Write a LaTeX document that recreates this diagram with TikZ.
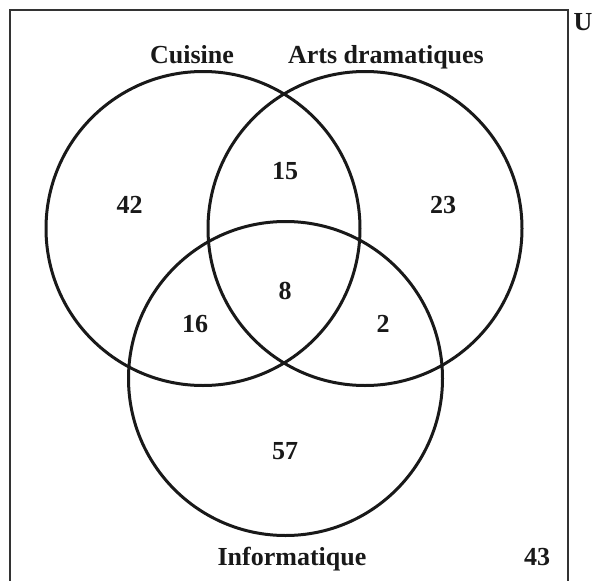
\documentclass[tikz,border=0pt]{standalone}
\usepackage{fontspec}
\setmainfont{Liberation Serif}
\begin{document}
\begin{tikzpicture}[x=1pt,y=-1pt,
  setcircle/.style={draw=black!90, line width=3pt, circle, minimum size=314pt, inner sep=0pt},
  lbl/.style={font=\fontsize{26}{30}\selectfont\bfseries, anchor=base, inner sep=0pt, text=black!90},
  frame/.style={draw=black!80, line width=2pt}]
\useasboundingbox (0,0) rectangle (595,581);
% universe frame
\coordinate (bl) at (9.5,590);
\coordinate (tl) at (9.5,10);
\coordinate (tr) at (567.5,10);
\coordinate (br) at (567.5,590);
\draw[frame] (bl) -- (tl) -- (tr) -- (br);
% circles
\node[setcircle] (cuisine) at (203,228.5) {};
\node[setcircle] (arts) at (365,228.5) {};
\node[setcircle] (info) at (285.5,378.5) {};
% labels
\node[lbl] (lU) at (583,30) {U};
\node[lbl] (lC) at (192,63) {Cuisine};
\node[lbl] (lA) at (386,63) {Arts dramatiques};
\node[lbl] (lI) at (292,565) {Informatique};
% numbers
\node[lbl] (n42) at (129.5,213) {42};
\node[lbl] (n23) at (443,213) {23};
\node[lbl] (n15) at (285,179) {15};
\node[lbl] (n8) at (285,299) {8};
\node[lbl] (n16) at (195,332) {16};
\node[lbl] (n2) at (383,332) {2};
\node[lbl] (n57) at (285,459) {57};
\node[lbl] (n43) at (537,565) {43};
\end{tikzpicture}
\end{document}
